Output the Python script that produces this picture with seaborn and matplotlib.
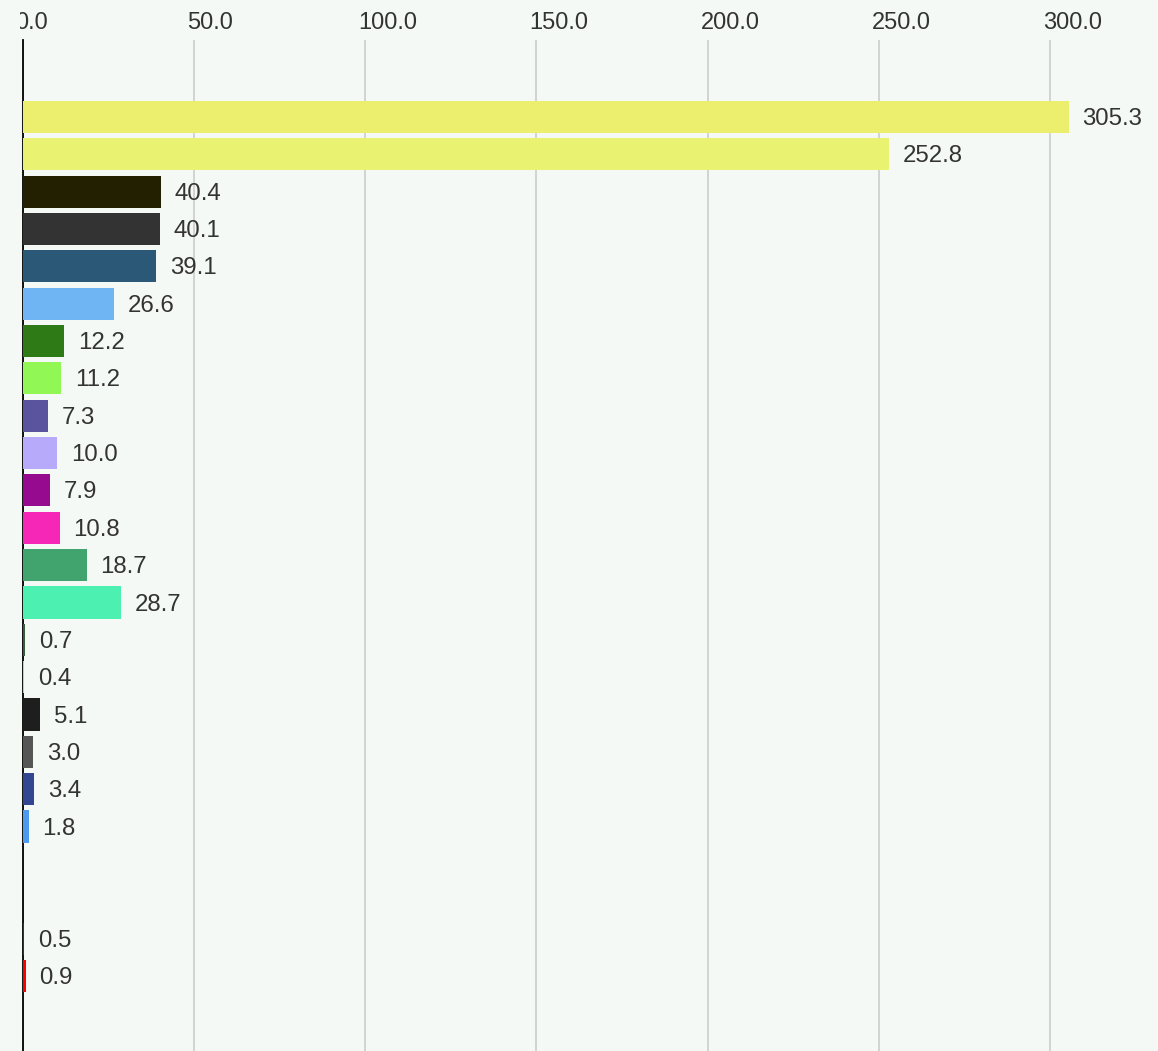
import matplotlib
matplotlib.use("Agg")
import matplotlib.pyplot as plt
import matplotlib.ticker as mticker
import matplotlib.transforms as mtrans
import pandas as pd
import seaborn as sns

# slots top to bottom; two slots have no bar
slots = [f"s{i:02d}" for i in range(24)]
bar_slots = slots[:20] + slots[22:]
values = [305.3, 252.8, 40.4, 40.1, 39.1, 26.6, 12.2, 11.2, 7.3, 10.0,
          7.9, 10.8, 18.7, 28.7, 0.7, 0.4, 5.1, 3.0, 3.4, 1.8, 0.5, 0.9]
colors = ["#ECEF6E", "#EAF272", "#222000", "#333333", "#2B5876", "#6FB5F3",
          "#2E7A17", "#90F754", "#5A549E", "#B8AAFB", "#960A90", "#F626B7",
          "#41A36E", "#4CF0B0", "#355E3B", "#90EE90", "#1E1E1E", "#555555",
          "#324691", "#4D9BF0", "#7A1515", "#FF0000"]
xticks = [0, 50, 100, 150, 200, 250, 300]

BG = "#F5F9F5"
TXT = "#333333"

df = pd.DataFrame({"slot": bar_slots, "value": values})

sns.set_style("white")
plt.rcParams["font.family"] = ["Liberation Sans", "DejaVu Sans"]

fig = plt.figure(figsize=(11.58, 10.51), dpi=100, facecolor=BG)
ax = fig.add_axes([22.5 / 1158, 0, 1 - 22.5 / 1158, 1011 / 1051])
ax.set_facecolor(BG)

sns.barplot(data=df, x="value", y="slot", hue="slot", order=slots,
            palette=dict(zip(bar_slots, colors)), legend=False, saturation=1,
            width=0.86, linewidth=0, ax=ax, zorder=3)

for c in ax.containers:
    for t in ax.bar_label(c, fmt="%.1f", padding=10, fontsize=17.3, color=TXT):
        dx, dy = t.xyann
        t.xyann = (dx, dy - 1.5)  # sit a touch below the bar centre

ax.set_xlim(0, 331.4)
ax.set_ylim(25.01, -2.06)
ax.set_xticks(xticks)
ax.xaxis.set_major_formatter(mticker.FormatStrFormatter("%.1f"))
ax.xaxis.tick_top()
ax.tick_params(axis="x", length=0, pad=4, labelsize=17, labelcolor=TXT)

# labels start just left of their grid line, and are cut at the left edge
shift = mtrans.ScaledTranslation(-7 / 100, 0, fig.dpi_scale_trans)
clip = mtrans.TransformedBbox(mtrans.Bbox.from_extents(20 / 1158, 0, 1, 1),
                              fig.transFigure)
for lab in ax.get_xticklabels():
    lab.set_horizontalalignment("left")
    lab.set_transform(lab.get_transform() + shift)
    lab.set_clip_box(clip)
    lab.set_clip_on(True)

ax.set_yticks([])
ax.set_xlabel("")
ax.set_ylabel("")
ax.grid(axis="x", color="#CCCCCC", linewidth=1.2, zorder=0)
for s in ["top", "right", "bottom"]:
    ax.spines[s].set_visible(False)
ax.spines["left"].set_color("black")
ax.spines["left"].set_linewidth(1.3)
ax.spines["left"].set_zorder(2)

fig.savefig("out.png", dpi=100, facecolor=BG)
